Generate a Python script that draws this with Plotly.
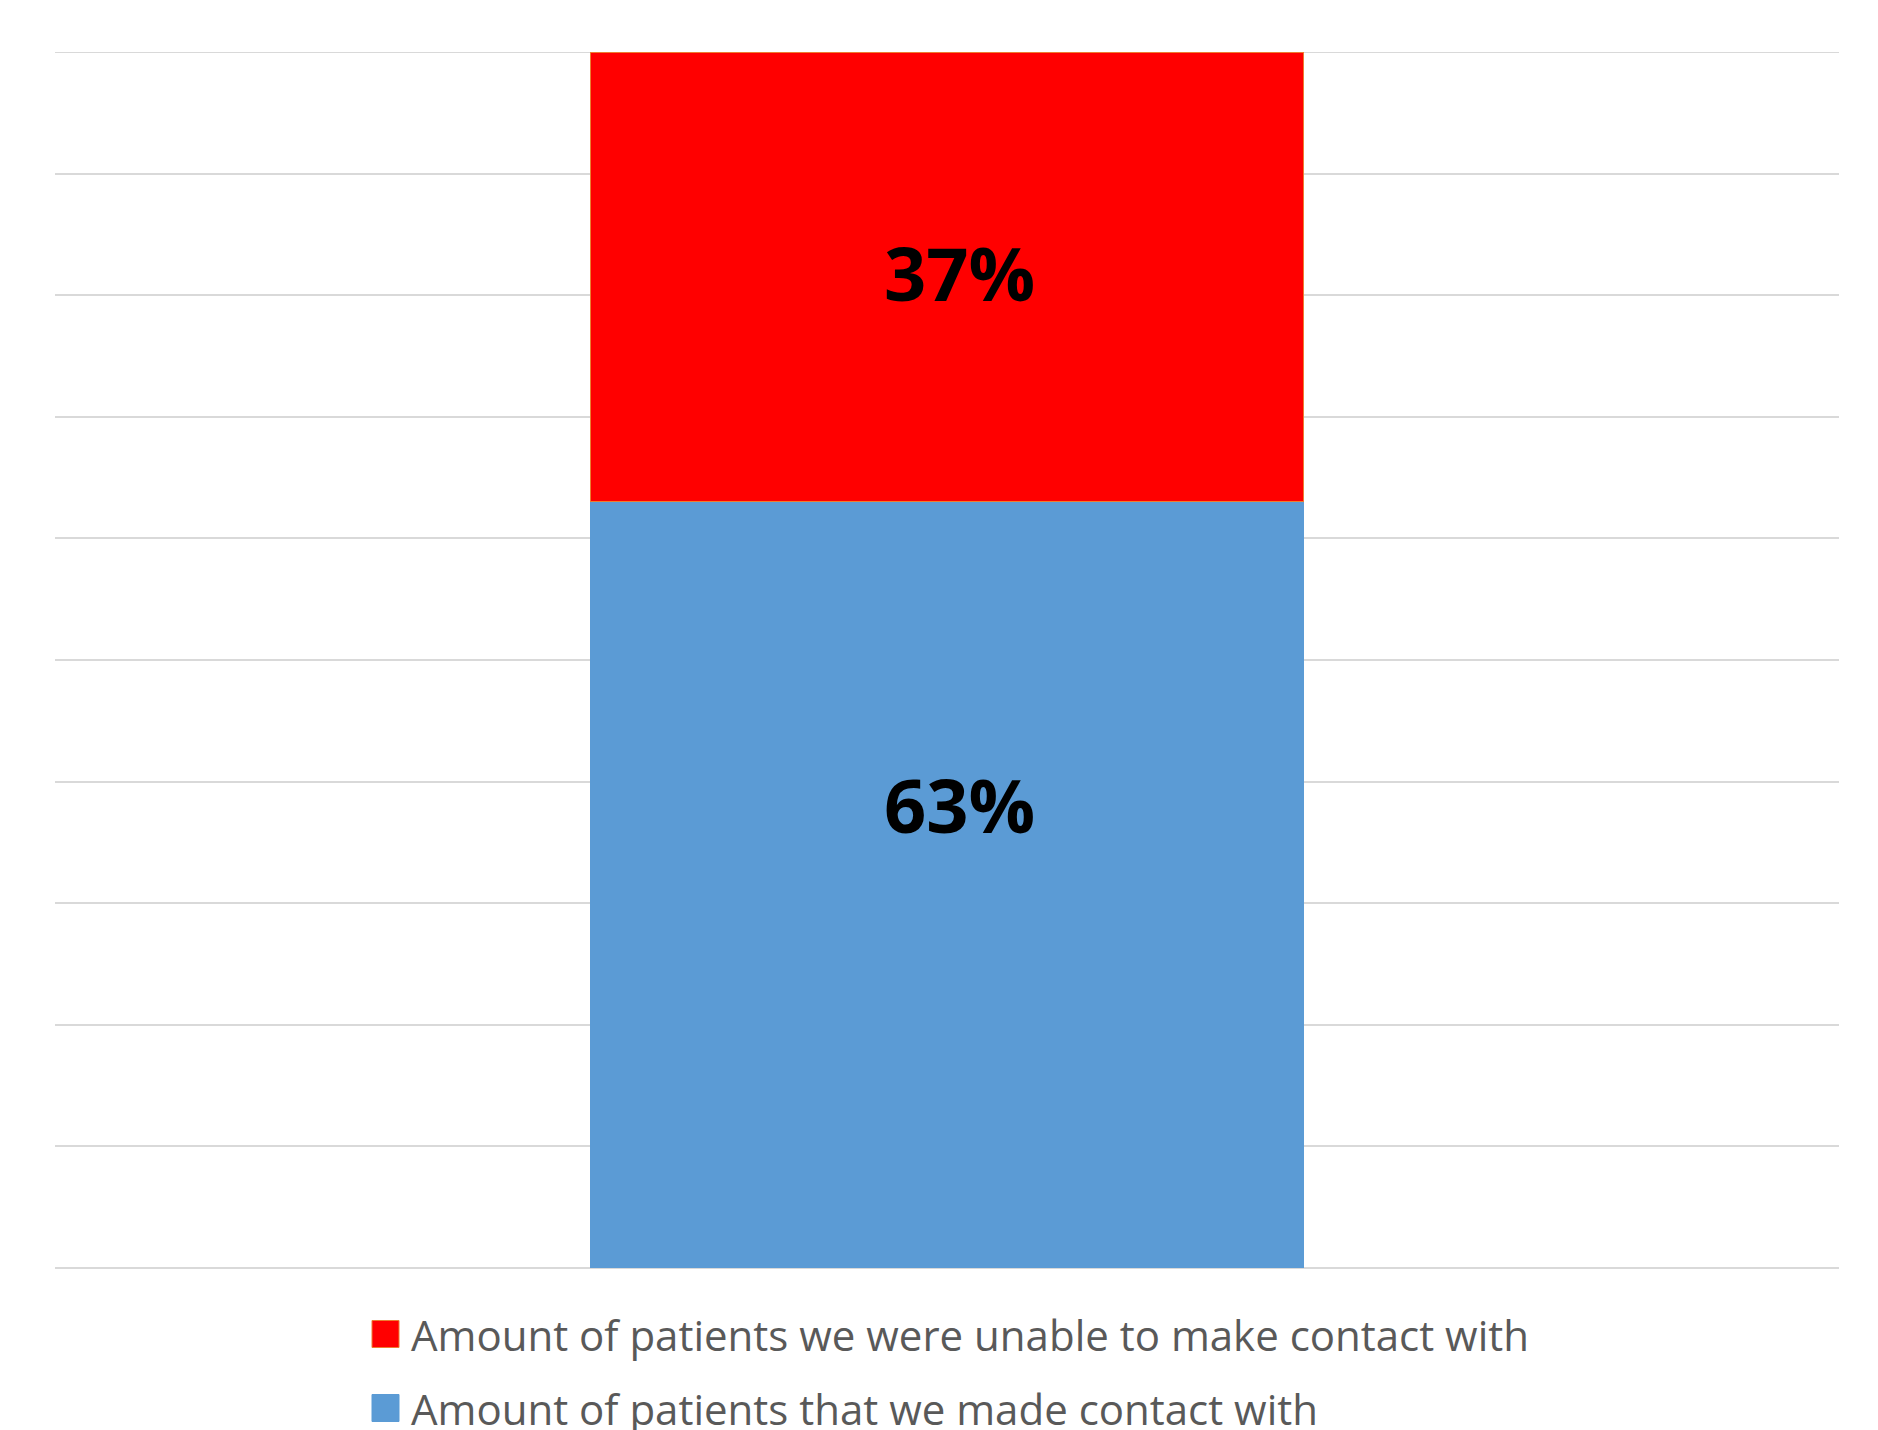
import plotly.graph_objects as go

# Share of patients reached, as one 100% stacked column
categories = ["Patients"]
series_names = [
    "Amount of patients that we made contact with",
    "Amount of patients we were unable to make contact with",
]
series_values = [[63], [37]]
series_colors = ["#5B9BD5", "#FF0000"]
series_edges = ["#5B9BD5", "#ED7D31"]

W, H = 1878, 1430
ML, MR, MT, MB = 55, 39, 52, 162

fig = go.Figure()
for name, vals, color, edge in zip(series_names, series_values, series_colors, series_edges):
    fig.add_trace(go.Bar(
        x=categories,
        y=[v / 100 for v in vals],
        name=name,
        marker=dict(color=color, line=dict(color=edge, width=1)),
        showlegend=False,
        hoverinfo="skip",
    ))

# Value labels inside each segment
label_shift = [80, 4]
base = 0.0
for vals, dy in zip(series_values, label_shift):
    v = vals[0] / 100
    fig.add_annotation(
        x=categories[0], y=base + v / 2, xref="x", yref="y",
        text=f"<b>{vals[0]}%</b>", showarrow=False,
        font=dict(family="Open Sans, Noto Sans, sans-serif", size=74, color="#000000"),
        xshift=12, yshift=dy,
    )
    base += v

# Top gridline at 100% (plotly skips the grid line on the range edge)
fig.add_shape(type="line", xref="paper", yref="y", x0=0, x1=1, y0=1, y1=1,
              line=dict(color="#D9D9D9", width=2), layer="below")

# Legend drawn as colored squares with labels below the plot
plot_h = H - MT - MB
plot_w = W - ML - MR
def px_to_paper_y(py):
    return (H - MB - py) / plot_h
def px_to_paper_x(px):
    return (px - ML) / plot_w

legend_rows = [
    (series_names[1], series_colors[1], series_edges[1], 1334),
    (series_names[0], series_colors[0], series_edges[0], 1408),
]
for text, color, edge, cy in legend_rows:
    fig.add_shape(
        type="rect", xref="paper", yref="paper",
        x0=px_to_paper_x(372), x1=px_to_paper_x(399),
        y0=px_to_paper_y(cy - 13.5), y1=px_to_paper_y(cy + 13.5),
        fillcolor=color, line=dict(color=edge, width=1),
    )
    fig.add_annotation(
        x=px_to_paper_x(409), y=px_to_paper_y(cy), xref="paper", yref="paper",
        xanchor="left", yanchor="middle", text=text, showarrow=False,
        font=dict(family="Open Sans, Noto Sans, sans-serif", size=42, color="#595959"),
    )

fig.update_layout(
    width=W, height=H,
    margin=dict(l=ML, r=MR, t=MT, b=MB, pad=0),
    barmode="stack", bargap=0.6,
    plot_bgcolor="#FFFFFF", paper_bgcolor="#FFFFFF",
    showlegend=False,
    xaxis=dict(showticklabels=False, showgrid=False, zeroline=False, showline=False,
               ticks="", range=[-0.5, 0.5]),
    yaxis=dict(range=[0, 1], dtick=0.1, tick0=0, showticklabels=False, ticks="",
               showgrid=True, gridcolor="#D9D9D9", gridwidth=2,
               zeroline=True, zerolinecolor="#D9D9D9", zerolinewidth=2,
               showline=False),
)

fig.write_html("out.html")
